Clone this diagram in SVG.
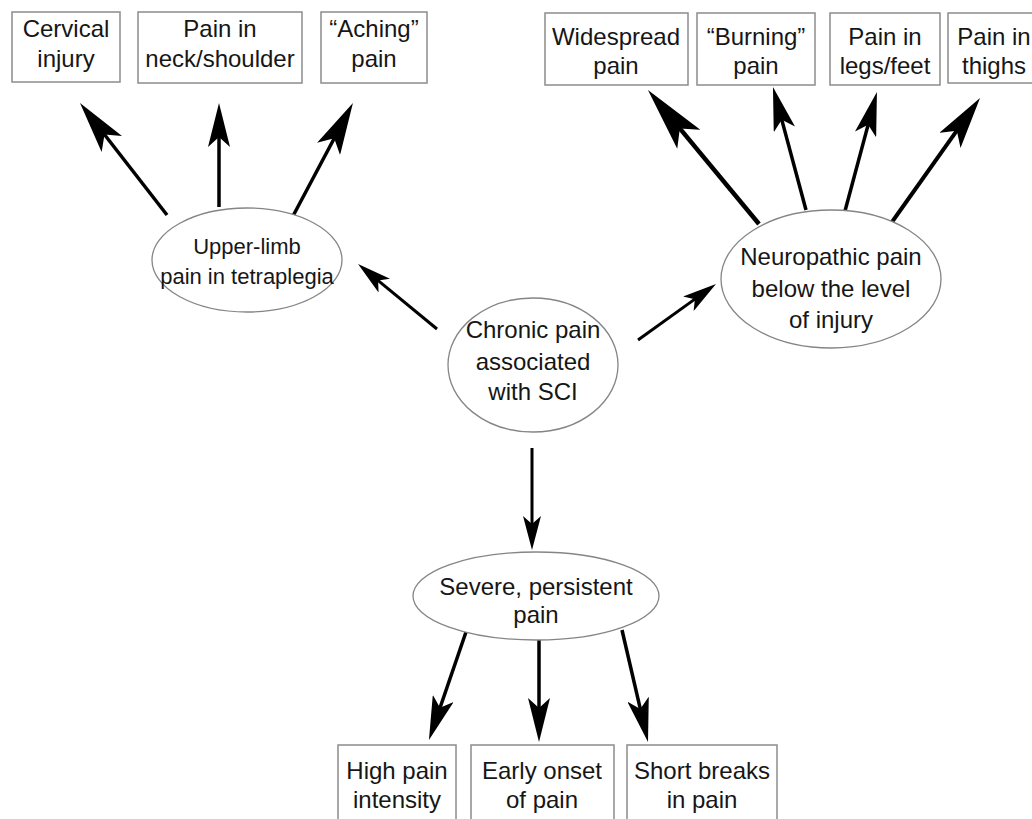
<svg xmlns="http://www.w3.org/2000/svg" width="1032" height="819" viewBox="0 0 1032 819">
<style>
  .box { fill: #ffffff; stroke: #8c8c8c; stroke-width: 1.5; }
  .ell { fill: #ffffff; stroke: #858585; stroke-width: 1.3; }
  text { font-family: "Liberation Sans", Arial, sans-serif; font-size: 24px; fill: #161616; text-anchor: middle; }
  .sm { font-size: 22px; }
  .arr { stroke: #000000; fill: none; stroke-linecap: butt; }
</style>
<defs>
  <marker id="hS" markerUnits="userSpaceOnUse" viewBox="0 0 34 18" markerWidth="34" markerHeight="18" refX="11" refY="9" orient="auto">
    <path d="M34,9 L0,0 L8,9 L0,18 Z" fill="#000"/>
  </marker>
  <marker id="hM" markerUnits="userSpaceOnUse" viewBox="0 0 44 22" markerWidth="44" markerHeight="22" refX="13" refY="11" orient="auto">
    <path d="M44,11 L0,0 L10,11 L0,22 Z" fill="#000"/>
  </marker>
  <marker id="hL" markerUnits="userSpaceOnUse" viewBox="0 0 52 26" markerWidth="52" markerHeight="26" refX="15" refY="13" orient="auto">
    <path d="M52,13 L0,0 L12,13 L0,26 Z" fill="#000"/>
  </marker>
  <marker id="hXL" markerUnits="userSpaceOnUse" viewBox="0 0 64 30" markerWidth="64" markerHeight="30" refX="18" refY="15" orient="auto">
    <path d="M64,15 L0,0 L14,15 L0,30 Z" fill="#000"/>
  </marker>
</defs>
<rect width="1032" height="819" fill="#ffffff"/>

<g id="connectors">
  <line class="arr" x1="167" y1="215" x2="102.7" y2="132.2" stroke-width="3.5" marker-end="url(#hL)"/>
  <line class="arr" x1="219" y1="207" x2="219" y2="134" stroke-width="3.5" marker-end="url(#hM)"/>
  <line class="arr" x1="293" y1="216" x2="335.6" y2="135.7" stroke-width="3.5" marker-end="url(#hL)"/>
  <line class="arr" x1="759" y1="224" x2="677.3" y2="125.4" stroke-width="4.5" marker-end="url(#hXL)"/>
  <line class="arr" x1="806" y1="210" x2="781" y2="116.9" stroke-width="3.5" marker-end="url(#hM)"/>
  <line class="arr" x1="845" y1="211" x2="868.9" y2="121.9" stroke-width="3.5" marker-end="url(#hM)"/>
  <line class="arr" x1="892" y1="222" x2="958.6" y2="128.2" stroke-width="4" marker-end="url(#hL)"/>
  <line class="arr" x1="437" y1="329" x2="375.8" y2="278.6" stroke-width="3" marker-end="url(#hS)"/>
  <line class="arr" x1="638" y1="340" x2="697.3" y2="297.4" stroke-width="3" marker-end="url(#hS)"/>
  <line class="arr" x1="532" y1="448" x2="532" y2="527" stroke-width="3" marker-end="url(#hS)"/>
  <line class="arr" x1="466" y1="632" x2="439" y2="710.7" stroke-width="3.5" marker-end="url(#hM)"/>
  <line class="arr" x1="539" y1="640" x2="539" y2="711" stroke-width="3.5" marker-end="url(#hM)"/>
  <line class="arr" x1="622" y1="630" x2="641" y2="711.8" stroke-width="3.5" marker-end="url(#hM)"/>
</g>

<g id="cervical-injury">
  <rect class="box" x="12" y="12" width="108" height="70"/>
  <text x="66" y="37">Cervical</text>
  <text x="66" y="67">injury</text>
</g>
<g id="neck-shoulder">
  <rect class="box" x="138" y="12" width="164" height="71"/>
  <text x="220" y="37">Pain in</text>
  <text x="220" y="67">neck/shoulder</text>
</g>
<g id="aching-pain">
  <rect class="box" x="321" y="12" width="106" height="71"/>
  <text x="374" y="37">“Aching”</text>
  <text x="374" y="67">pain</text>
</g>
<g id="widespread-pain">
  <rect class="box" x="545" y="13" width="143" height="72"/>
  <text x="616" y="45">Widespread</text>
  <text x="616" y="74">pain</text>
</g>
<g id="burning-pain">
  <rect class="box" x="697" y="13" width="118" height="72"/>
  <text x="756" y="45">“Burning”</text>
  <text x="756" y="74">pain</text>
</g>
<g id="legs-feet">
  <rect class="box" x="830" y="13" width="110" height="72"/>
  <text x="885" y="45">Pain in</text>
  <text x="885" y="74">legs/feet</text>
</g>
<g id="thighs">
  <rect class="box" x="948" y="13" width="92" height="70"/>
  <text x="994" y="45">Pain in</text>
  <text x="994" y="74">thighs</text>
</g>

<g id="upper-limb">
  <ellipse class="ell" cx="247" cy="260" rx="95" ry="52"/>
  <text class="sm" x="247" y="254">Upper-limb</text>
  <text class="sm" x="247" y="284">pain in tetraplegia</text>
</g>
<g id="neuropathic">
  <ellipse class="ell" cx="831" cy="279" rx="110" ry="69"/>
  <text x="831" y="265">Neuropathic pain</text>
  <text x="831" y="297">below the level</text>
  <text x="831" y="328">of injury</text>
</g>
<g id="chronic-pain">
  <ellipse class="ell" cx="533" cy="365" rx="85" ry="67"/>
  <text x="533" y="338">Chronic pain</text>
  <text x="533" y="370">associated</text>
  <text x="533" y="400">with SCI</text>
</g>
<g id="severe-pain">
  <ellipse class="ell" cx="536" cy="596" rx="123" ry="44"/>
  <text x="536" y="595">Severe, persistent</text>
  <text x="536" y="623">pain</text>
</g>

<g id="high-intensity">
  <rect class="box" x="338" y="745" width="118" height="90"/>
  <text x="397" y="779">High pain</text>
  <text x="397" y="808">intensity</text>
</g>
<g id="early-onset">
  <rect class="box" x="471" y="745" width="143" height="90"/>
  <text x="542" y="779">Early onset</text>
  <text x="542" y="808">of pain</text>
</g>
<g id="short-breaks">
  <rect class="box" x="627" y="745" width="150" height="90"/>
  <text x="702" y="779">Short breaks</text>
  <text x="702" y="808">in pain</text>
</g>
</svg>
